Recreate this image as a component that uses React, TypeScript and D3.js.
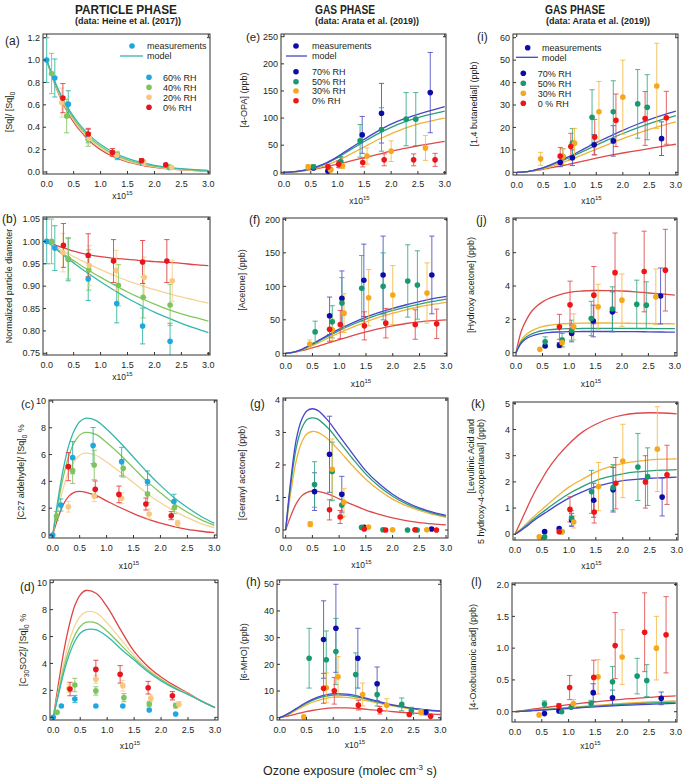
import React from 'react';
import * as d3 from 'd3';

const FONT = '"Liberation Sans", Arial, Helvetica, sans-serif';
const INK = '#231f20';

// ---------- common grids / ticks ----------
const MODEL_X = [0, 0.1, 0.2, 0.3, 0.4, 0.5, 0.6, 0.8, 1.0, 1.25, 1.5, 1.75, 2.0, 2.25, 2.5, 2.75, 3.0];
const X_TICKS = [0, 0.5, 1, 1.5, 2, 2.5, 3];
const Y_TICKS_A = [0, 0.2, 0.4, 0.6, 0.8, 1.0, 1.2];
const Y_TICKS_B = [0.75, 0.8, 0.85, 0.9, 0.95, 1.0, 1.05];
const Y_TICKS_C = [0, 2, 4, 6, 8, 10];
const Y_TICKS_D = [0, 2, 4, 6, 8, 10];
const Y_TICKS_E = [0, 50, 100, 150, 200, 250];
const Y_TICKS_F = [0, 50, 100, 150, 200];
const Y_TICKS_G = [0, 1, 2, 3, 4];
const Y_TICKS_H = [0, 10, 20, 30, 40, 50];
const Y_TICKS_I = [0, 10, 20, 30, 40, 50, 60];
const Y_TICKS_J = [0, 2, 4, 6, 8];
const Y_TICKS_K = [0, 1, 2, 3, 4, 5];
const Y_TICKS_L = [0, 0.5, 1.0, 1.5, 2.0];

const PARTICLE_RH = ['60% RH', '40% RH', '20% RH', '0% RH'];
const GAS_RH = ['70% RH', '50% RH', '30% RH', '0% RH'];
const GAS_RH_I = ['70% RH', '50% RH', '30% RH', '0 % RH'];

type Pt = [number, number, number]; // x, y, half error

// ---------- (a) [Sq]/[Sq]0 ----------
const measA60: Pt[] = [[0, 1.0, 0.2], [0.15, 0.84, 0.17], [0.40, 0.606, 0.12], [0.77, 0.32, 0.06], [1.31, 0.14, 0.03], [1.78, 0.08, 0.02], [2.28, 0.04, 0.01]];
const measA40: Pt[] = [[0.09, 0.88, 0.18], [0.37, 0.50, 0.15], [0.77, 0.29, 0.06], [1.31, 0.155, 0.03], [1.78, 0.09, 0.02], [2.29, 0.045, 0.01]];
const measA20: Pt[] = [[0.28, 0.62, 0.13], [0.79, 0.30, 0.05], [1.30, 0.15, 0.03], [1.80, 0.08, 0.02], [2.32, 0.04, 0.01]];
const measA0: Pt[] = [[0.30, 0.66, 0.13], [0.77, 0.34, 0.05], [1.22, 0.175, 0.035], [1.76, 0.10, 0.02], [2.21, 0.065, 0.015]];
const modelA60 = [1, 0.868, 0.754, 0.655, 0.569, 0.494, 0.43, 0.325, 0.245, 0.172, 0.121, 0.085, 0.06, 0.042, 0.03, 0.021, 0.014];
const modelA40 = [1, 0.862, 0.744, 0.641, 0.553, 0.477, 0.411, 0.306, 0.228, 0.157, 0.109, 0.075, 0.052, 0.036, 0.025, 0.017, 0.012];
const modelA20 = [1, 0.856, 0.733, 0.628, 0.538, 0.46, 0.394, 0.289, 0.212, 0.144, 0.098, 0.067, 0.046, 0.031, 0.021, 0.014, 0.01];
const modelA0 = [1, 0.85, 0.724, 0.616, 0.524, 0.446, 0.38, 0.275, 0.2, 0.134, 0.09, 0.061, 0.041, 0.028, 0.019, 0.013, 0.009];

// ---------- (b) normalized diameter ----------
const measB60: Pt[] = [[0, 1.0, 0.05], [0.15, 0.985, 0.05], [0.40, 0.96, 0.048], [0.77, 0.916, 0.048], [1.30, 0.861, 0.043], [1.78, 0.811, 0.04], [2.29, 0.777, 0.04]];
const measB40: Pt[] = [[0.09, 1.0, 0.05], [0.40, 0.961, 0.045], [0.78, 0.936, 0.045], [1.33, 0.902, 0.046], [1.79, 0.875, 0.046], [2.29, 0.858, 0.046]];
const measB20: Pt[] = [[0.30, 0.975, 0.043], [0.79, 0.946, 0.045], [1.29, 0.935, 0.045], [1.81, 0.92, 0.045], [2.33, 0.912, 0.046]];
const measB0: Pt[] = [[0.31, 0.991, 0.049], [0.77, 0.969, 0.048], [1.24, 0.956, 0.048], [1.78, 0.954, 0.048], [2.23, 0.956, 0.048]];
const modelB60 = [1, 0.99, 0.98, 0.97, 0.961, 0.952, 0.943, 0.926, 0.91, 0.891, 0.873, 0.857, 0.842, 0.829, 0.817, 0.806, 0.796];
const modelB40 = [1, 0.991, 0.982, 0.973, 0.965, 0.957, 0.949, 0.934, 0.92, 0.903, 0.887, 0.873, 0.86, 0.848, 0.838, 0.83, 0.822];
const modelB20 = [1, 0.993, 0.986, 0.979, 0.972, 0.966, 0.96, 0.948, 0.937, 0.924, 0.912, 0.902, 0.892, 0.884, 0.876, 0.869, 0.862];
const modelB0 = [1, 0.995, 0.99, 0.986, 0.982, 0.978, 0.975, 0.97, 0.966, 0.962, 0.96, 0.957, 0.955, 0.953, 0.951, 0.948, 0.946];

// ---------- (c) C27 aldehyde ----------
const measC60: Pt[] = [[0, 0, 0], [0.15, 2.24, 0.45], [0.37, 5.77, 1.2], [0.75, 6.67, 1.35], [1.28, 5.47, 1.07], [1.76, 3.98, 0.8], [2.25, 2.49, 0.55]];
const measC40: Pt[] = [[0.07, 1.42, 0.33], [0.37, 4.8, 0.95], [0.77, 5.22, 1.1], [1.31, 4.97, 0.65], [1.76, 3.06, 0.65], [2.26, 2.04, 0.45]];
const measC20: Pt[] = [[0.29, 2.11, 0.4], [0.77, 2.91, 0.42], [1.28, 2.74, 0.4], [1.79, 1.57, 0.37], [2.32, 0.87, 0.22]];
const measC0: Pt[] = [[0.29, 5.1, 1.05], [0.79, 3.41, 0.62], [1.23, 3.03, 0.62], [1.73, 2.31, 0.45], [2.2, 1.44, 0.3]];
const modelC60 = [0, 2.7, 5.0, 6.7, 7.8, 8.45, 8.7, 8.55, 7.9, 6.9, 5.8, 4.7, 3.7, 2.8, 2.05, 1.4, 0.87];
const modelC40 = [0, 2.4, 4.4, 5.9, 6.9, 7.45, 7.65, 7.5, 6.9, 6.0, 5.0, 4.0, 3.15, 2.35, 1.7, 1.15, 0.72];
const modelC20 = [0, 1.95, 3.55, 4.75, 5.5, 5.95, 6.1, 5.95, 5.45, 4.7, 3.9, 3.1, 2.4, 1.8, 1.3, 0.85, 0.55];
const modelC0 = [0, 1.3, 2.3, 2.9, 3.18, 3.25, 3.2, 2.95, 2.55, 2.05, 1.6, 1.2, 0.88, 0.62, 0.42, 0.28, 0.17];

// ---------- (d) C30 SOZ ----------
const measD60: Pt[] = [[0, 0, 0], [0.15, 0.84, 0.12], [0.40, 1.36, 0.27], [0.79, 0.84, 0.12], [1.29, 0.84, 0.12], [1.78, 0.54, 0.08], [2.27, 0.25, 0.05]];
const measD40: Pt[] = [[0.07, 0.37, 0.08], [0.40, 2.4, 0.5], [0.79, 1.96, 0.31], [1.31, 1.46, 0.3], [1.78, 0.99, 0.2], [2.27, 0.87, 0.18]];
const measD20: Pt[] = [[0.29, 2.15, 0.3], [0.79, 2.82, 0.3], [1.29, 2.35, 0.4], [1.81, 1.41, 0.25], [2.33, 0.97, 0.2]];
const measD0: Pt[] = [[0.31, 2.1, 0.5], [0.79, 3.56, 0.68], [1.24, 3.19, 0.65], [1.76, 2.2, 0.47], [2.21, 1.6, 0.31]];
const modelD60 = [0, 1.75, 3.4, 4.7, 5.65, 6.25, 6.5, 6.5, 6.0, 5.1, 4.25, 3.4, 2.7, 2.15, 1.7, 1.2, 0.72];
const modelD40 = [0, 1.9, 3.7, 5.1, 6.1, 6.75, 7.05, 7.0, 6.4, 5.4, 4.4, 3.5, 2.8, 2.2, 1.7, 1.2, 0.72];
const modelD20 = [0, 2.1, 4.1, 5.7, 6.8, 7.5, 7.82, 7.75, 7.0, 5.8, 4.6, 3.6, 2.85, 2.25, 1.75, 1.2, 0.72];
const modelD0 = [0, 2.6, 5.0, 6.9, 8.3, 9.1, 9.42, 9.2, 8.2, 6.5, 4.9, 3.8, 3.0, 2.35, 1.8, 1.2, 0.72];

// ---------- (e) 4-OPA ----------
const measE70: Pt[] = [[0.55, 8, 3], [0.82, 2, 1], [1.05, 18, 10], [1.46, 69, 34], [1.82, 109, 55], [2.73, 147, 74]];
const measE50: Pt[] = [[0.55, 10, 4], [0.87, 5, 2], [1.06, 20, 9], [1.42, 58, 30], [1.82, 79, 40], [2.28, 98, 49], [2.46, 98, 49]];
const measE30: Pt[] = [[0.45, 10, 4], [0.87, 4, 2], [1.09, 12, 5], [1.55, 30, 15], [2.0, 39, 19], [2.64, 45, 23]];
const measE0: Pt[] = [[0.82, 10, 5], [1.02, 15, 6], [1.47, 18, 8], [1.87, 23, 11], [2.42, 23, 11], [2.82, 23, 12]];
const modelE70 = [0, 0.3, 1.2, 2.6, 4.5, 7, 10, 18, 29, 45, 61, 76, 89, 99, 107, 114, 121];
const modelE50 = [0, 0.3, 1.1, 2.4, 4.2, 6.5, 9.3, 17, 27, 42, 57, 71, 83, 93, 101, 107.5, 113];
const modelE30 = [0, 0.2, 0.8, 1.8, 3.2, 5, 7.3, 13.5, 21.5, 34, 47, 60, 71, 81, 89, 95, 100];
const modelE0 = [0, 0.5, 1.3, 2.3, 3.5, 5, 6.6, 10.5, 15, 21, 27, 33, 39, 44, 49, 53, 57];

// ---------- (f) Acetone ----------
const measF70: Pt[] = [[0.82, 56, 28], [1.05, 82, 41], [1.46, 109, 54], [1.82, 117, 58], [2.73, 117, 58]];
const measF50: Pt[] = [[0.55, 32, 16], [0.87, 47, 24], [1.05, 75, 38], [1.42, 97, 49], [1.82, 100, 50], [2.28, 108, 54], [2.46, 102, 51]];
const measF30: Pt[] = [[0.45, 14, 6], [0.87, 35, 16], [1.09, 60, 29], [1.55, 83, 42], [2.0, 87, 44], [2.64, 90, 45]];
const measF0: Pt[] = [[0.82, 36, 18], [1.02, 43, 21], [1.47, 41, 21], [1.87, 45, 22], [2.42, 43, 22], [2.82, 44, 22]];
const modelF70 = [0, 1, 3, 6, 10, 14, 18.5, 27.5, 36, 45.5, 54, 61, 67, 72.5, 77, 81.5, 85];
const modelF50 = [0, 1, 2.8, 5.6, 9.3, 13.2, 17.4, 26, 34, 43, 51, 58, 64, 69, 73.5, 77.5, 81];
const modelF30 = [0, 0.8, 2.4, 4.8, 8, 11.5, 15.2, 23, 30.5, 39, 47, 54, 60, 65, 69.5, 73, 76];
const modelF0 = [0, 0.8, 2.2, 4, 6, 8.2, 10.5, 15.5, 20.5, 26.5, 32, 37, 41, 44.5, 47, 48.8, 50];

// ---------- (g) Geranyl acetone ----------
const measG70: Pt[] = [[0.54, 1.18, 0.58], [0.82, 2.33, 1.17], [1.05, 1.1, 0.55], [1.47, 0.08, 0.03], [2.73, 0.03, 0.01]];
const measG50: Pt[] = [[0.54, 1.4, 0.7], [0.87, 1.8, 0.9], [1.05, 0.77, 0.38], [1.42, 0.08, 0.03], [1.82, 0.01, 0], [2.28, 0.0, 0], [2.46, 0.0, 0]];
const measG30: Pt[] = [[0.46, 0.18, 0.08], [0.87, 1.87, 0.93], [1.09, 0.85, 0.43], [1.55, 0.09, 0.03], [2.0, 0.01, 0], [2.64, 0.01, 0]];
const measG0: Pt[] = [[0.82, 0.62, 0.31], [1.02, 0.4, 0.2], [1.47, 0.03, 0.01], [1.87, 0.0, 0], [2.42, 0.01, 0], [2.82, 0.0, 0]];
const modelG70 = [0, 1.6, 2.8, 3.4, 3.67, 3.73, 3.68, 3.35, 2.9, 2.35, 1.82, 1.42, 1.1, 0.86, 0.68, 0.55, 0.45];
const modelG50 = [0, 1.45, 2.55, 3.13, 3.4, 3.45, 3.41, 3.12, 2.72, 2.2, 1.72, 1.34, 1.04, 0.81, 0.64, 0.52, 0.42];
const modelG30 = [0, 1.2, 2.15, 2.7, 2.96, 3.03, 3.0, 2.78, 2.44, 1.98, 1.56, 1.22, 0.95, 0.75, 0.6, 0.48, 0.39];
const modelG0 = [0, 0.45, 0.82, 1.05, 1.16, 1.2, 1.19, 1.1, 0.96, 0.78, 0.61, 0.48, 0.37, 0.29, 0.23, 0.19, 0.16];

// ---------- (h) 6-MHO ----------
const measH70: Pt[] = [[0.82, 29.3, 14.5], [1.05, 33.5, 16.5], [1.46, 22.3, 11.2], [1.82, 12.7, 6.3], [2.73, 2, 1]];
const measH50: Pt[] = [[0.55, 22.3, 11.2], [0.87, 21.7, 10.8], [1.05, 24.8, 12.4], [1.42, 16.2, 8.1], [1.82, 8.7, 4.3], [2.28, 5, 2.4], [2.46, 2.6, 1.3]];
const measH30: Pt[] = [[0.45, 0.3, 0.15], [0.87, 11.2, 5.6], [1.09, 15.3, 7.6], [1.55, 8.7, 4.3], [2.0, 4.7, 2.4], [2.64, 2, 1]];
const measH0: Pt[] = [[0.82, 11, 5.6], [1.02, 10.1, 5], [1.47, 4.7, 1.8], [1.87, 2.8, 1.4], [2.42, 1.2, 0.6], [2.82, 0.5, 0.25]];
const modelH70 = [0, 0.9, 2.0, 3.3, 4.6, 5.8, 6.8, 8.3, 9.0, 8.8, 7.9, 6.6, 5.3, 4.3, 3.5, 2.9, 2.5];
const modelH50 = [0, 0.85, 1.9, 3.1, 4.3, 5.4, 6.4, 7.8, 8.5, 8.35, 7.5, 6.3, 5.1, 4.15, 3.4, 2.85, 2.45];
const modelH30 = [0, 0.7, 1.6, 2.7, 3.8, 4.8, 5.7, 7.0, 7.7, 7.6, 6.9, 5.85, 4.8, 3.9, 3.2, 2.7, 2.35];
const modelH0 = [0, 0.4, 0.85, 1.35, 1.85, 2.3, 2.7, 3.3, 3.65, 3.65, 3.35, 2.9, 2.45, 2.05, 1.7, 1.4, 1.2];

// ---------- (i) 1,4 butanedial ----------
const measI70: Pt[] = [[0.82, 4.5, 2], [1.05, 6.5, 3.5], [1.46, 12.3, 4.5], [1.82, 14, 6.8], [2.73, 15, 7.5]];
const measI50: Pt[] = [[0.87, 7, 3.5], [1.05, 13, 6.5], [1.42, 24.5, 12.3], [1.82, 27, 13.8], [2.28, 30.5, 15.3], [2.46, 29, 14.5]];
const measI30: Pt[] = [[0.45, 6, 2.9], [0.87, 7, 3.5], [1.09, 13, 6.6], [1.55, 27, 13.5], [2.0, 33.5, 16.5], [2.64, 38.5, 19]];
const measI0: Pt[] = [[0.82, 7.3, 3.8], [1.02, 11.5, 5.9], [1.47, 15.7, 7.9], [1.87, 23.2, 11.7], [2.42, 24, 12], [2.82, 24.3, 11.8]];
const modelI70 = [0, 0.1, 0.35, 0.8, 1.4, 2.1, 3.0, 5.0, 7.2, 10.2, 13.2, 16.0, 18.7, 21.2, 23.5, 25.5, 27.3];
const modelI50 = [0, 0.1, 0.33, 0.75, 1.3, 1.95, 2.75, 4.6, 6.6, 9.3, 12.1, 14.8, 17.3, 19.6, 21.7, 23.6, 25.3];
const modelI30 = [0, 0.08, 0.27, 0.6, 1.05, 1.6, 2.25, 3.8, 5.5, 7.9, 10.3, 12.7, 15.0, 17.1, 19.1, 20.9, 22.5];
const modelI0 = [0, 0.1, 0.3, 0.6, 0.95, 1.35, 1.8, 2.7, 3.7, 5.0, 6.3, 7.5, 8.6, 9.6, 10.6, 11.6, 12.5];

// ---------- (j) Hydroxy acetone ----------
const measJ70: Pt[] = [[0.55, 0.4, 0.1], [0.82, 0.45, 0.15], [1.05, 1.15, 0.5], [1.46, 1.9, 0.95], [1.82, 2.45, 1.2], [2.73, 3.4, 1.68]];
const measJ50: Pt[] = [[0.55, 0.65, 0.3], [0.87, 0.75, 0.4], [1.05, 1.35, 0.6], [1.42, 2.05, 1.03], [1.82, 2.62, 1.33], [2.28, 2.9, 1.45], [2.46, 2.85, 1.4]];
const measJ30: Pt[] = [[0.45, 0.2, 0.05], [0.87, 0.6, 0.3], [1.09, 1.55, 0.78], [1.55, 2.75, 1.35], [2.0, 3.15, 1.57], [2.64, 3.35, 1.67]];
const measJ0: Pt[] = [[0.82, 1.55, 0.75], [1.02, 2.87, 1.42], [1.47, 3.45, 1.72], [1.87, 4.8, 2.38], [2.42, 4.87, 2.42], [2.82, 4.95, 2.45]];
const modelJ70 = [0, 0.58, 0.85, 1.0, 1.1, 1.16, 1.2, 1.24, 1.26, 1.27, 1.27, 1.27, 1.26, 1.26, 1.25, 1.24, 1.23];
const modelJ50 = [0, 0.65, 0.95, 1.13, 1.25, 1.32, 1.37, 1.42, 1.44, 1.45, 1.46, 1.46, 1.46, 1.45, 1.45, 1.44, 1.44];
const modelJ30 = [0, 0.75, 1.1, 1.32, 1.46, 1.56, 1.63, 1.71, 1.75, 1.77, 1.78, 1.78, 1.77, 1.76, 1.75, 1.74, 1.73];
const modelJ0 = [0, 1.3, 2.0, 2.5, 2.82, 3.05, 3.22, 3.45, 3.62, 3.7, 3.73, 3.72, 3.7, 3.65, 3.58, 3.52, 3.45];

// ---------- (k) Levulinic acid + 5-hydroxy-4-oxopentanal ----------
const measK70: Pt[] = [[0.55, 0.1, 0.03], [0.82, 0.22, 0.05], [1.05, 0.55, 0.25], [1.46, 1.3, 0.65], [1.82, 1.7, 0.85], [2.73, 1.42, 0.72]];
const measK50: Pt[] = [[0.55, -0.1, 0.03], [0.87, 0.1, 0.03], [1.05, 0.62, 0.28], [1.42, 1.62, 0.82], [1.82, 1.78, 0.88], [2.28, 2.57, 1.28], [2.46, 2.2, 1.1]];
const measK30: Pt[] = [[0.45, -0.1, 0.05], [0.87, 0.1, 0.03], [1.09, 0.47, 0.23], [1.55, 1.82, 0.92], [2.0, 2.8, 1.4], [2.64, 3.25, 1.62]];
const measK0: Pt[] = [[0.82, 0.1, 0.03], [1.02, 0.95, 0.48], [1.47, 0.85, 0.42], [1.87, 1.95, 0.98], [2.42, 2.0, 1.0], [2.82, 2.27, 1.13]];
const modelK70 = [0, 0.13, 0.28, 0.44, 0.6, 0.74, 0.87, 1.14, 1.38, 1.62, 1.82, 1.95, 2.05, 2.1, 2.14, 2.16, 2.18];
const modelK50 = [0, 0.15, 0.32, 0.5, 0.67, 0.83, 0.98, 1.28, 1.55, 1.82, 2.05, 2.2, 2.31, 2.38, 2.42, 2.45, 2.47];
const modelK30 = [0, 0.18, 0.38, 0.58, 0.77, 0.95, 1.13, 1.48, 1.8, 2.1, 2.38, 2.57, 2.7, 2.78, 2.84, 2.87, 2.88];
const modelK0 = [0, 0.45, 0.9, 1.35, 1.75, 2.1, 2.45, 3.0, 3.45, 3.9, 4.2, 4.42, 4.55, 4.62, 4.64, 4.63, 4.6];

// ---------- (l) 4-Oxobutanoic acid ----------
const measL70: Pt[] = [[0.55, -0.03, 0.01], [0.82, 0.01, 0.01], [1.46, 0.3, 0.14], [1.82, 0.22, 0.12], [2.73, 0.21, 0.1]];
const measL50: Pt[] = [[0.55, 0.12, 0.05], [0.87, 0.0, 0.01], [1.05, 0.07, 0.02], [1.42, 0.13, 0.05], [1.82, 0.47, 0.24], [2.28, 0.56, 0.28], [2.46, 0.49, 0.25]];
const measL30: Pt[] = [[0.45, -0.05, 0.01], [1.09, 0.13, 0.06], [1.55, 0.55, 0.27], [2.0, 0.86, 0.43], [2.64, 1.0, 0.5]];
const measL0: Pt[] = [[0.82, 0.09, 0.04], [1.02, 0.38, 0.19], [1.47, 0.54, 0.27], [1.87, 1.04, 0.52], [2.42, 1.25, 0.62], [2.82, 1.21, 0.6]];
const modelL70 = [0, 0.004, 0.009, 0.014, 0.019, 0.025, 0.03, 0.04, 0.05, 0.063, 0.076, 0.088, 0.099, 0.108, 0.116, 0.124, 0.13];
const modelL50 = [0, 0.005, 0.011, 0.017, 0.023, 0.029, 0.035, 0.047, 0.058, 0.073, 0.088, 0.101, 0.114, 0.125, 0.135, 0.143, 0.15];
const modelL30 = [0, 0.006, 0.012, 0.019, 0.026, 0.033, 0.04, 0.053, 0.066, 0.083, 0.1, 0.115, 0.13, 0.142, 0.153, 0.162, 0.17];
const modelL0 = [0, 0.012, 0.025, 0.037, 0.048, 0.06, 0.07, 0.09, 0.11, 0.135, 0.155, 0.175, 0.195, 0.21, 0.225, 0.24, 0.25];

// ---------- colours ----------
const P_COLORS = [
  { dot: '#1fa7e0', bar: '#2bb2a5', line: '#35b7ac' },
  { dot: '#7ec45c', bar: '#7ec45c', line: '#82c75c' },
  { dot: '#f8c87e', bar: '#f6cf8e', line: '#f6d396' },
  { dot: '#e5161d', bar: '#de3a3e', line: '#df4346' },
];
const G_COLORS = [
  { dot: '#0c0ca8', bar: '#4c4cc6', line: '#4646cc' },
  { dot: '#18996f', bar: '#34a884', line: '#2aa07a' },
  { dot: '#f5a81c', bar: '#f4b845', line: '#efb33a' },
  { dot: '#ee1515', bar: '#e04a4a', line: '#dd4a4a' },
];

type Seg = { t: string; sub?: boolean };
interface PanelCfg {
  id: string;
  box: [number, number, number, number];
  xd: [number, number];
  yd: [number, number];
  yTicks: number[];
  fmt: string;
  colors: { dot: string; bar: string; line: string }[];
  meas: Pt[][];
  model: number[][];
  label: string;
  lx: number;
  ly: number;
  ls: number;
  titles: Seg[][];
  tx: number[];
  ty: number;
  tAnchor: string;
  x10: number;
}

const PANELS: PanelCfg[] = [
  { id: 'a', box: [43, 34, 210, 174], xd: [-0.069, 3.031], yd: [-0.018, 1.233], yTicks: Y_TICKS_A, fmt: '.1f', colors: P_COLORS,
    meas: [measA60, measA40, measA20, measA0], model: [modelA60, modelA40, modelA20, modelA0],
    label: '(a)', lx: 5, ly: 45, ls: 12, titles: [[{ t: '[Sq]/ [Sq]' }, { t: '0', sub: true }]], tx: [12], ty: 112, tAnchor: 'middle', x10: 199 },
  { id: 'b', box: [43, 217, 210, 355], xd: [-0.069, 3.031], yd: [0.7462, 1.0545], yTicks: Y_TICKS_B, fmt: '.2f', colors: P_COLORS,
    meas: [measB60, measB40, measB20, measB0], model: [modelB60, modelB40, modelB20, modelB0],
    label: '(b)', lx: 2, ly: 223, ls: 12, titles: [[{ t: 'Normalized particle diameter' }]], tx: [12], ty: 286, tAnchor: 'middle', x10: 380 },
  { id: 'c', box: [49, 400, 217, 538], xd: [-0.069, 3.05], yd: [-0.224, 10.07], yTicks: Y_TICKS_C, fmt: 'd', colors: P_COLORS,
    meas: [measC60, measC40, measC20, measC0], model: [modelC60, modelC40, modelC20, modelC0],
    label: '(c)', lx: 21, ly: 408, ls: 11.5, titles: [[{ t: '[C27 aldehyde]/ [Sq]' }, { t: '0', sub: true }, { t: ' %' }]], tx: [24], ty: 472, tAnchor: 'middle', x10: 569 },
  { id: 'd', box: [50, 580, 218, 720], xd: [-0.061, 3.056], yd: [-0.2, 10.2], yTicks: Y_TICKS_D, fmt: 'd', colors: P_COLORS,
    meas: [measD60, measD40, measD20, measD0], model: [modelD60, modelD40, modelD20, modelD0],
    label: '(d)', lx: 20, ly: 591, ls: 12, titles: [[{ t: '[C' }, { t: '30', sub: true }, { t: 'SOZ]/ [Sq]' }, { t: '0', sub: true }, { t: ' %' }]], tx: [26], ty: 650, tAnchor: 'middle', x10: 749 },
  { id: 'e', box: [281, 34, 446, 174], xd: [-0.056, 3.024], yd: [-3.1, 255], yTicks: Y_TICKS_E, fmt: 'd', colors: G_COLORS,
    meas: [measE70, measE50, measE30, measE0], model: [modelE70, modelE50, modelE30, modelE0],
    label: '(e)', lx: 246, ly: 41, ls: 11.5, titles: [[{ t: '[4-OPA] (ppb)' }]], tx: [247], ty: 100, tAnchor: 'middle', x10: 204 },
  { id: 'f', box: [283, 218, 447, 356], xd: [-0.05, 3.013], yd: [-4, 202], yTicks: Y_TICKS_F, fmt: 'd', colors: G_COLORS,
    meas: [measF70, measF50, measF30, measF0], model: [modelF70, modelF50, modelF30, modelF0],
    label: '(f)', lx: 249, ly: 224, ls: 12, titles: [[{ t: '[Acetone] (ppb)' }]], tx: [245], ty: 280, tAnchor: 'middle', x10: 387 },
  { id: 'g', box: [283, 398, 448, 538], xd: [-0.05, 3.037], yd: [-0.246, 4.06], yTicks: Y_TICKS_G, fmt: 'd', colors: G_COLORS,
    meas: [measG70, measG50, measG30, measG0], model: [modelG70, modelG50, modelG30, modelG0],
    label: '(g)', lx: 250, ly: 408, ls: 12, titles: [[{ t: '[Geranyl acetone] (ppb)' }]], tx: [245], ty: 473, tAnchor: 'middle', x10: 568 },
  { id: 'h', box: [277, 580, 441, 720], xd: [-0.05, 3.013], yd: [-0.86, 51.6], yTicks: Y_TICKS_H, fmt: 'd', colors: G_COLORS,
    meas: [measH70, measH50, measH30, measH0], model: [modelH70, modelH50, modelH30, modelH0],
    label: '(h)', lx: 246, ly: 586, ls: 12, titles: [[{ t: '[6-MHO] (ppb)' }]], tx: [247], ty: 652, tAnchor: 'middle', x10: 748 },
  { id: 'i', box: [513, 34, 678, 175], xd: [-0.07, 3.04], yd: [-1.2, 61.65], yTicks: Y_TICKS_I, fmt: 'd', colors: G_COLORS,
    meas: [measI70, measI50, measI30, measI0], model: [modelI70, modelI50, modelI30, modelI0],
    label: '(i)', lx: 477, ly: 41, ls: 12, titles: [[{ t: '[1,4 butanedial] (ppb)' }]], tx: [477], ty: 104, tAnchor: 'middle', x10: 204 },
  { id: 'j', box: [513, 218, 677, 356], xd: [-0.057, 3.04], yd: [-0.2, 8.08], yTicks: Y_TICKS_J, fmt: 'd', colors: G_COLORS,
    meas: [measJ70, measJ50, measJ30, measJ0], model: [modelJ70, modelJ50, modelJ30, modelJ0],
    label: '(j)', lx: 476, ly: 224, ls: 12, titles: [[{ t: '[Hydroxy acetone] (ppb)' }]], tx: [474], ty: 285, tAnchor: 'middle', x10: 387 },
  { id: 'k', box: [513, 402, 678, 540], xd: [-0.037, 3.024], yd: [-0.218, 5.05], yTicks: Y_TICKS_K, fmt: 'd', colors: G_COLORS,
    meas: [measK70, measK50, measK30, measK0], model: [modelK70, modelK50, modelK30, modelK0],
    label: '(k)', lx: 471, ly: 408, ls: 12, titles: [[{ t: '[Levulinic Acid and' }], [{ t: '5 hydroxy-4-oxopentanal] (ppb)' }]], tx: [474, 484], ty: 419, tAnchor: 'end', x10: 569 },
  { id: 'l', box: [512, 583, 677, 722], xd: [-0.056, 3.024], yd: [-0.162, 2.025], yTicks: Y_TICKS_L, fmt: '.1f', colors: G_COLORS,
    meas: [measL70, measL50, measL30, measL0], model: [modelL70, modelL50, modelL30, modelL0],
    label: '(l)', lx: 471, ly: 586, ls: 12, titles: [[{ t: '[4-Oxobutanoic acid] (ppb)' }]], tx: [476], ty: 657, tAnchor: 'middle', x10: 749 },
];

function Segs({ segs, size }: { segs: Seg[]; size: number }) {
  const out: any[] = [];
  let shifted = false;
  segs.forEach((s, i) => {
    if (s.sub) {
      out.push(<tspan key={i} fontSize={size * 0.72} dy={shifted ? 0 : 2.5}>{s.t}</tspan>);
      shifted = true;
    } else {
      out.push(<tspan key={i} dy={shifted ? -2.5 : 0}>{s.t}</tspan>);
      shifted = false;
    }
  });
  return <>{out}</>;
}

function PanelView({ p }: { p: PanelCfg }) {
  const [L, T, R, B] = p.box;
  const x = d3.scaleLinear().domain(p.xd).range([L, R]);
  const y = d3.scaleLinear().domain(p.yd).range([B, T]);
  const line = d3
    .line<[number, number]>()
    .x((d) => x(d[0]))
    .y((d) => y(d[1]))
    .curve(d3.curveCatmullRom.alpha(0.5));
  const fy = d3.format(p.fmt);
  const fx = d3.format('.1f');
  const clip = `clip-${p.id}`;
  const cap = 2.6;
  const drawOrder = [0, 1, 2, 3];
  return (
    <g>
      <defs>
        <clipPath id={clip}>
          <rect x={L} y={T} width={R - L} height={B - T} />
        </clipPath>
      </defs>
      <g clipPath={`url(#${clip})`}>
        {[3, 2, 1, 0].map((i) => (
          <path key={'m' + i} d={line(MODEL_X.map((xx, j) => [xx, p.model[i][j]] as [number, number])) || ''}
            fill="none" stroke={p.colors[i].line} strokeWidth={1.3} />
        ))}
        {drawOrder.map((i) => (
          <g key={'e' + i} stroke={p.colors[i].bar} strokeWidth={1} strokeOpacity={0.85}>
            {p.meas[i].filter((d) => d[2] > 0.0001 && Math.abs(y(d[1] - d[2]) - y(d[1] + d[2])) > 4).map((d, k) => {
              const cx = x(d[0]);
              const y1 = y(d[1] + d[2]);
              const y2 = y(d[1] - d[2]);
              return (
                <g key={k}>
                  <line x1={cx} x2={cx} y1={y1} y2={y2} />
                  <line x1={cx - cap} x2={cx + cap} y1={y1} y2={y1} />
                  <line x1={cx - cap} x2={cx + cap} y1={y2} y2={y2} />
                </g>
              );
            })}
          </g>
        ))}
        {drawOrder.map((i) => (
          <g key={'d' + i} fill={p.colors[i].dot}>
            {p.meas[i].map((d, k) => (
              <circle key={k} cx={x(d[0])} cy={y(d[1])} r={2.8} />
            ))}
          </g>
        ))}
      </g>
      <rect x={L} y={T} width={R - L} height={B - T} fill="none" stroke="#333" strokeWidth={1} />
      {p.yTicks.map((t) => (
        <g key={'yt' + t}>
          <line x1={L} x2={L + 3} y1={y(t)} y2={y(t)} stroke="#333" />
          <text x={L - 3} y={y(t) + 3.2} fontSize={9} textAnchor="end" fontFamily={FONT} fill={INK}>{fy(t)}</text>
        </g>
      ))}
      {[p.yTicks[0], p.yTicks[p.yTicks.length - 1]].map((t, k) => (
        <line key={'rt' + k} x1={R - 3} x2={R} y1={y(t)} y2={y(t)} stroke="#333" />
      ))}
      {X_TICKS.map((t) => (
        <g key={'xt' + t}>
          <line x1={x(t)} x2={x(t)} y1={B} y2={B - 3} stroke="#333" />
          <text x={x(t)} y={B + 13} fontSize={9} textAnchor="middle" fontFamily={FONT} fill={INK}>{fx(t)}</text>
        </g>
      ))}
      {[0, 3].map((t) => (
        <line key={'tt' + t} x1={x(t)} x2={x(t)} y1={T} y2={T + 3} stroke="#333" />
      ))}
      <text x={(L + R) / 2 - 4} y={p.x10} fontSize={8.5} textAnchor="middle" fontFamily={FONT} fill={INK}>
        x10<tspan fontSize={6} dy={-4}>15</tspan>
      </text>
      <text x={p.lx} y={p.ly} fontSize={p.ls} fontFamily={FONT} fill={INK}>{p.label}</text>
      {p.titles.map((segs, k) => (
        <text key={'ti' + k} transform={`translate(${p.tx[k]},${p.ty}) rotate(-90)`} fontSize={9}
          textAnchor={p.tAnchor as any} fontFamily={FONT} fill={INK}>
          <Segs segs={segs} size={9} />
        </text>
      ))}
    </g>
  );
}

function Legend({ dotX, dotY, textX, lineX1, lineX2, lineY, itemDotX, itemTextX, itemYs, labels, colors, measColor, modelColor }: any) {
  return (
    <g fontFamily={FONT} fontSize={9} fill={INK}>
      <circle cx={dotX} cy={dotY} r={2.8} fill={measColor} />
      <text x={textX} y={dotY + 3.2}>measurements</text>
      <line x1={lineX1} x2={lineX2} y1={lineY} y2={lineY} stroke={modelColor} strokeWidth={1.3} />
      <text x={textX} y={lineY + 3.2}>model</text>
      {labels.map((lab: string, i: number) => (
        <g key={lab + i}>
          <circle cx={itemDotX} cy={itemYs[i]} r={2.8} fill={colors[i].dot} />
          <text x={itemTextX} y={itemYs[i] + 3.2}>{lab}</text>
        </g>
      ))}
    </g>
  );
}

export default function App() {
  return (
    <svg width={685} height={781} viewBox="0 0 685 781" style={{ position: 'absolute', left: 0, top: 0, background: '#fff' }}>
      <rect x={0} y={0} width={685} height={781} fill="#fff" />
      <g fontFamily={FONT} fill={INK} fontWeight="bold">
        <text x={126} y={14} fontSize={12.5} textAnchor="middle" textLength={102} lengthAdjust="spacingAndGlyphs">PARTICLE PHASE</text>
        <text x={128} y={24} fontSize={9} textAnchor="middle">(data: Heine et al. (2017))</text>
        <text x={345} y={14} fontSize={12.5} textAnchor="middle" textLength={60} lengthAdjust="spacingAndGlyphs">GAS PHASE</text>
        <text x={367} y={24} fontSize={9} textAnchor="middle">(data: Arata et al. (2019))</text>
        <text x={575} y={14} fontSize={12.5} textAnchor="middle" textLength={60} lengthAdjust="spacingAndGlyphs">GAS PHASE</text>
        <text x={598} y={24} fontSize={9} textAnchor="middle">(data: Arata et al. (2019))</text>
      </g>
      {PANELS.map((p) => (
        <PanelView key={p.id} p={p} />
      ))}
      <Legend dotX={132} dotY={46} textX={147} lineX1={120} lineX2={143} lineY={56} itemDotX={149} itemTextX={163}
        itemYs={[77.3, 87.3, 97.3, 107.3]} labels={PARTICLE_RH} colors={P_COLORS} measColor={P_COLORS[0].dot} modelColor={P_COLORS[0].line} />
      <Legend dotX={296} dotY={46} textX={312} lineX1={286} lineX2={307} lineY={56} itemDotX={296} itemTextX={312}
        itemYs={[71.7, 81.7, 91, 100.7]} labels={GAS_RH} colors={G_COLORS} measColor={G_COLORS[0].dot} modelColor={G_COLORS[0].line} />
      <Legend dotX={527.7} dotY={47.7} textX={542} lineX1={516} lineX2={538} lineY={57.3} itemDotX={523.3} itemTextX={537.7}
        itemYs={[73.3, 83.3, 93.3, 103.3]} labels={GAS_RH_I} colors={G_COLORS} measColor={G_COLORS[0].dot} modelColor={G_COLORS[0].line} />
      <text x={350} y={775} fontSize={12.5} textAnchor="middle" fontFamily={FONT} fill={INK}>
        Ozone exposure (molec cm<tspan fontSize={8} dy={-5}>-3</tspan><tspan dy={5}> s)</tspan>
      </text>
    </svg>
  );
}
